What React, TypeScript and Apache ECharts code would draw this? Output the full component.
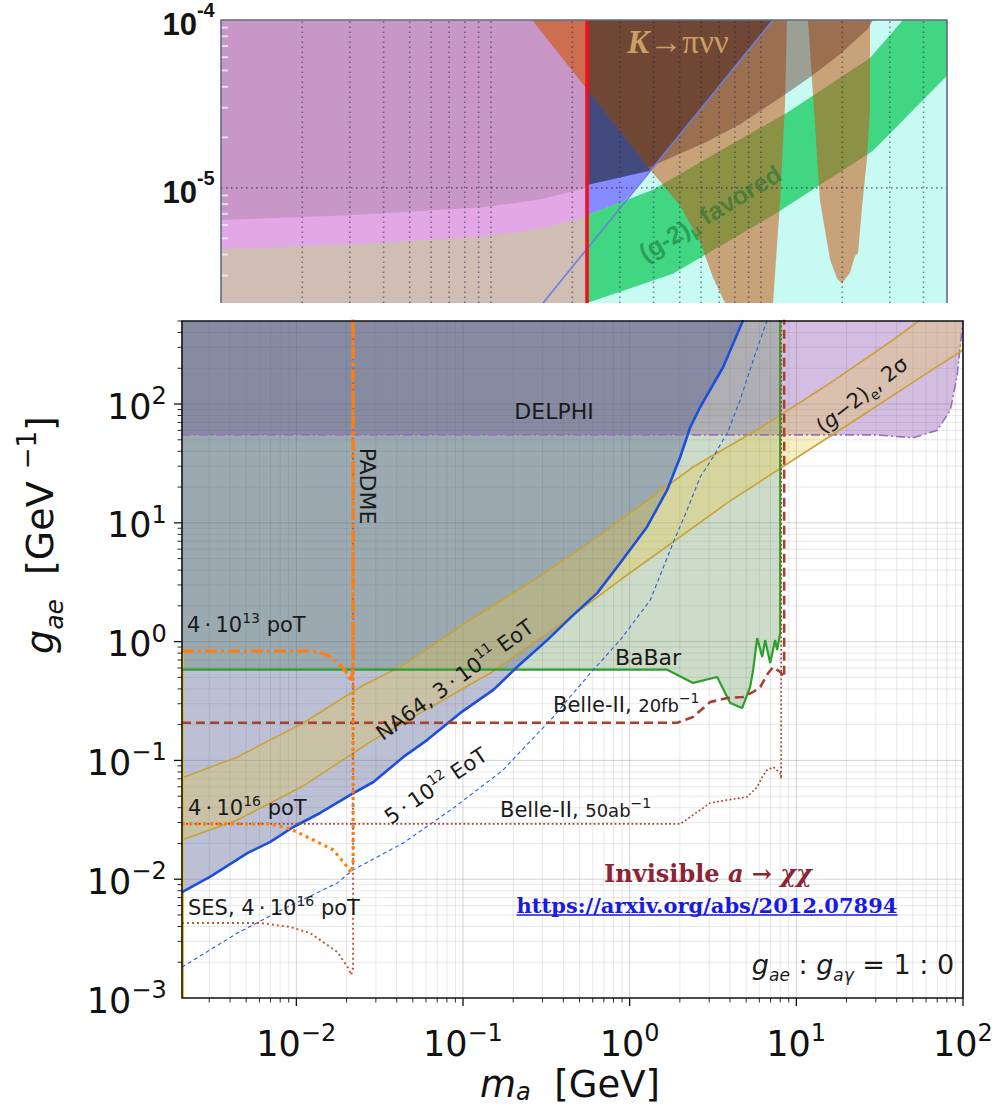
import React, { useEffect, useRef } from 'react';
import * as echarts from 'echarts';

const SANS = 'DejaVu Sans';
const SERIF = 'DejaVu Serif';
const ARIAL = 'Liberation Sans';
const TIMES = 'Liberation Serif';

// ================= Main panel: m_a [GeV] vs g_ae [GeV^-1] =================
const mainXRange = [0.00206, 100];
const mainYRange = [0.001, 500];
const mainXTickLabels = [0.01, 0.1, 1, 10, 100];
const mainYTickLabels = [0.001, 0.01, 0.1, 1, 10, 100];

const delphiBound = [[0.00206, 55], [30, 55], [50, 52], [70, 60], [84, 89], [92, 169], [98.6, 420], [100, 520]];
const babarBound = [[0.00206, 0.58], [1.68, 0.58], [2.4, 0.449], [3.35, 0.504], [4.01, 0.304], [4.73, 0.276], [5.28, 0.415], [5.51, 0.58], [5.82, 1.07], [6.24, 0.741], [6.5, 1.03], [6.97, 0.661], [7.46, 1.03], [7.67, 0.85], [8.0, 1.18], [8.0, 520]];
const na64Bound = [[0.00206, 0.0078], [0.00305, 0.0105], [0.00508, 0.0166], [0.00698, 0.0206], [0.00959, 0.0275], [0.0139, 0.0361], [0.0211, 0.0512], [0.029, 0.0658], [0.0439, 0.107], [0.0611, 0.149], [0.0964, 0.251], [0.152, 0.392], [0.211, 0.611], [0.32, 1.03], [0.458, 1.67], [0.638, 2.56], [0.877, 4.59], [1.27, 9.23], [1.68, 18.9], [2.01, 35.8], [2.31, 64], [2.65, 94.4], [3.64, 205], [4.8, 509]];
const na64Projection = [[0.00206, 0.00182], [0.00443, 0.00352], [0.00883, 0.00583], [0.0176, 0.00929], [0.0217, 0.0119], [0.0439, 0.0202], [0.0875, 0.0397], [0.174, 0.083], [0.22, 0.118], [0.348, 0.232], [0.422, 0.322], [0.604, 0.577], [0.877, 1.03], [1.33, 2.24], [1.82, 6.76], [2.21, 12.8], [2.65, 24.3], [3.17, 35.8], [3.85, 57], [4.6, 108], [5.51, 234], [6.68, 509]];
const g2eUpper = [[0.00206, 0.0711], [0.00443, 0.107], [0.011, 0.2065], [0.0242, 0.415], [0.0439, 0.635], [0.11, 1.52], [0.279, 3.43], [0.604, 7.16], [0.966, 11.6], [2.4, 29.5], [6.07, 62.8], [15.3, 144.5], [38, 346], [55.2, 509]];
const g2eLower = [[0.00206, 0.0214], [0.00443, 0.0315], [0.011, 0.061], [0.029, 0.149], [0.146, 0.544], [0.458, 1.67], [0.877, 3.3], [3.85, 14.7], [9.57, 33.8], [24.1, 77.8], [60.8, 182], [100, 285]];
const padme13 = [[0.00206, 0.834], [0.01265, 0.834], [0.01535, 0.771], [0.0176, 0.673], [0.0191, 0.6], [0.0205, 0.524], [0.0213, 0.457], [0.0219, 0.6], [0.0219, 520]];
const padme16 = [[0.00206, 0.0292], [0.007, 0.0292], [0.0092, 0.0265], [0.01265, 0.0214], [0.01667, 0.0176], [0.0202, 0.0127], [0.0213, 0.0113], [0.0219, 0.013], [0.0219, 520]];
const padmeSES = [[0.00206, 0.00428], [0.0061, 0.00428], [0.0092, 0.00396], [0.0121, 0.00352], [0.0176, 0.00244], [0.0205, 0.00179], [0.0213, 0.00156], [0.0219, 0.0018], [0.0219, 520]];
const belle20fb = [[0.00206, 0.2075], [1.93, 0.2075], [2.4, 0.232], [3.04, 0.31], [3.85, 0.335], [4.8, 0.342], [5.51, 0.377], [6.07, 0.415], [6.78, 0.544], [7.26, 0.611], [8.0, 0.555], [8.45, 0.5], [8.45, 520]];
const belle50ab = [[0.00206, 0.0292], [2.01, 0.0292], [2.4, 0.0347], [3.04, 0.0438], [4.18, 0.0473], [5.07, 0.0492], [5.82, 0.0597], [6.24, 0.0725], [6.68, 0.083], [7.26, 0.088], [8.0, 0.0783], [8.11, 0.07], [8.11, 520]];
const leftEdgeLine = [[0.00209, 0.001], [0.00209, 0.85]];

// ================= Top panel (cropped inset) =================
const topXRange = [10, 4886];
const topYRange = [2.06e-6, 1e-4];
const topYTickLabels = [1e-5, 1e-4];

const topTan = [[10, 1e-4], [226.8, 1e-4], [226.8, 2.06e-6], [10, 2.06e-6]];
const topPink = [[10, 1e-4], [226.8, 1e-4], [226.8, 6.78e-6], [151.9, 5.7e-6], [93.4, 5.12e-6], [30, 4.6e-6], [10, 4.3e-6]];
const topMauve = [[10, 1e-4], [226.8, 1e-4], [226.8, 1e-5], [151.9, 8.51e-6], [93.4, 7.65e-6], [30, 6.87e-6], [10, 6.43e-6]];
const topKaonLeft = [[141.9, 1e-4], [226.8, 1e-4], [226.8, 3.87e-5]];
const topCyan = [[226.8, 1e-4], [4886, 1e-4], [4886, 2.06e-6], [226.8, 2.06e-6]];
const topBlue = [[226.8, 3.87e-5], [391, 1.27e-5], [311, 8.29e-6], [226.8, 6.87e-6]];
const topGreenBand = [[226.8, 6.87e-6], [398, 9.73e-6], [705, 1.663e-5], [1248, 2.8e-5], [2534, 5.93e-5], [3357, 1e-4], [4886, 1e-4], [4886, 4.66e-5], [2599, 1.663e-5], [1108, 6.87e-6], [472, 3.08e-6], [226.8, 2.06e-6]];
const topValley1 = [[226.8, 1e-4], [1248, 1e-4], [1227, 3.12e-5], [1176, 8.18e-6], [1108, 2.06e-6], [735.6, 2.06e-6], [664, 2.92e-6], [594, 4.79e-6], [501, 7.86e-6], [391, 1.27e-5], [226.8, 3.87e-5]];
const topValley2 = [[1493, 1e-4], [2534, 1e-4], [2534, 2.92e-5], [2470, 1.494e-5], [2367, 7.65e-6], [2288, 4.08e-6], [2229, 3.92e-6], [2136, 3.12e-6], [1995, 2.69e-6], [1912, 2.88e-6], [1801, 3.76e-6], [1654, 8.4e-6]];
const topArc = [[226.8, 1e-4], [2599, 1e-4], [2491, 8.87e-5], [1962, 6.26e-5], [1545, 4.66e-5], [1248, 3.66e-5], [836, 2.39e-5], [631, 1.88e-5], [398, 1.36e-5], [226.8, 1.04e-5]];
const topNavy = [[226.8, 3.87e-5], [391, 1.27e-5], [226.8, 1.04e-5]];
const topKaonRight = [[226.8, 1e-4], [1108, 1e-4], [391, 1.27e-5], [226.8, 3.87e-5]];
const topRedLine = [[226.8, 2.06e-6], [226.8, 1e-4]];
const topBlueLine = [[155.8, 2.06e-6], [1108, 1e-4]];

const LINK = 'https://arxiv.org/abs/2012.07894';

// ---------------- helpers ----------------
function logGrid(min: number, max: number, majorOnly?: boolean, minorOnly?: boolean) {
  const out: number[] = [];
  for (let e = -8; e <= 5; e++) {
    for (let n = 1; n <= 9; n++) {
      if (majorOnly && n !== 1) continue;
      if (minorOnly && n === 1) continue;
      const v = +(n * Math.pow(10, e)).toPrecision(6);
      if (v >= min * 1.0001 && v <= max * 1.0001) out.push(v);
    }
  }
  return out;
}
function isDecade(v: number) {
  const l = Math.log10(v);
  return Math.abs(l - Math.round(l)) < 1e-6;
}
function inList(v: number, list: number[]) {
  return list.some((t) => Math.abs(Math.log10(t) - Math.log10(v)) < 1e-6);
}

function polygon(points: number[][], fill: string, axis: number, z: number) {
  return {
    type: 'custom', xAxisIndex: axis, yAxisIndex: axis, z, silent: true, clip: true,
    data: points,
    renderItem: (params: any, api: any) => {
      if (params.dataIndex !== 0) return null;
      return { type: 'polygon', shape: { points: points.map((p) => api.coord(p)) }, style: { fill } };
    },
  };
}
function curve(data: number[][], color: string, width: number, type: any, axis: number, z: number, cap = 'butt') {
  return {
    type: 'line', xAxisIndex: axis, yAxisIndex: axis, data, z, silent: true, symbol: 'none', showSymbol: false,
    clip: true, lineStyle: { color, width, type, cap }, emphasis: { disabled: true },
  };
}
function vLines(values: number[], y0: number, y1: number, axis: number, style: any, z: number) {
  return {
    type: 'custom', xAxisIndex: axis, yAxisIndex: axis, z, silent: true, clip: true,
    data: values.map((v) => [v, y0]),
    renderItem: (params: any, api: any) => {
      const a = api.coord([api.value(0), y0]);
      const b = api.coord([api.value(0), y1]);
      return { type: 'line', shape: { x1: a[0], y1: a[1], x2: b[0], y2: b[1] }, style };
    },
  };
}
function hLines(values: number[], x0: number, x1: number, axis: number, style: any, z: number) {
  return {
    type: 'custom', xAxisIndex: axis, yAxisIndex: axis, z, silent: true, clip: true,
    data: values.map((v) => [x0, v]),
    renderItem: (params: any, api: any) => {
      const a = api.coord([x0, api.value(1)]);
      const b = api.coord([x1, api.value(1)]);
      return { type: 'line', shape: { x1: a[0], y1: a[1], x2: b[0], y2: b[1] }, style };
    },
  };
}
function xTicks(values: number[], yAt: number, len: number, axis: number, style: any) {
  return {
    type: 'custom', xAxisIndex: axis, yAxisIndex: axis, z: 20, silent: true, clip: false,
    data: values.map((v) => [v, yAt]),
    renderItem: (params: any, api: any) => {
      const p = api.coord([api.value(0), yAt]);
      return { type: 'line', shape: { x1: p[0], y1: p[1], x2: p[0], y2: p[1] + len }, style };
    },
  };
}
function yTicks(values: number[], xAt: number, len: number, axis: number, style: any) {
  return {
    type: 'custom', xAxisIndex: axis, yAxisIndex: axis, z: 20, silent: true, clip: false,
    data: values.map((v) => [xAt, v]),
    renderItem: (params: any, api: any) => {
      const p = api.coord([xAt, api.value(1)]);
      return { type: 'line', shape: { x1: p[0], y1: p[1], x2: p[0] + len, y2: p[1] }, style };
    },
  };
}
function frame(xr: number[], yr: number[], axis: number, style: any, open: boolean) {
  return {
    type: 'custom', xAxisIndex: axis, yAxisIndex: axis, z: 21, silent: true, clip: false,
    data: [[xr[0], yr[0]]],
    renderItem: (params: any, api: any) => {
      const bl = api.coord([xr[0], yr[0]]);
      const tl = api.coord([xr[0], yr[1]]);
      const tr = api.coord([xr[1], yr[1]]);
      const br = api.coord([xr[1], yr[0]]);
      if (open) return { type: 'polyline', shape: { points: [bl, tl, tr, br] }, style: { ...style, fill: 'none' } };
      return { type: 'polygon', shape: { points: [bl, tl, tr, br] }, style: { ...style, fill: 'none' } };
    },
  };
}

const richL = (size: number, color = '#1a1a1a', family = SANS) => {
  const lh = Math.round(size * 1.4);
  const small = Math.round(size * 0.68);
  const sl = Math.round(size * 0.6);
  return {
    n: { fontFamily: family, fontSize: size, lineHeight: lh, fill: color },
    i: { fontFamily: family, fontStyle: 'italic', fontSize: size, lineHeight: lh, fill: color },
    m: { fontFamily: family, fontSize: Math.round(size * 0.85), lineHeight: lh, fill: color },
    u: { fontFamily: family, fontSize: small, lineHeight: sl, verticalAlign: 'top', fill: color },
    d: { fontFamily: family, fontSize: small, lineHeight: sl, verticalAlign: 'bottom', fill: color },
    di: { fontFamily: family, fontStyle: 'italic', fontSize: small, lineHeight: sl, verticalAlign: 'bottom', fill: color },
  };
};
function txt(x: number, y: number, text: string, rich: any, align = 'center', rotation = 0) {
  return {
    type: 'text', x, y, rotation, z: 100, silent: true,
    style: { text, rich, align, verticalAlign: 'middle', textAlign: align, textVerticalAlign: 'middle' },
  };
}
const deg = (d: number) => (d * Math.PI) / 180;

function buildOption(linkWidth: number) {
  const TOP = 0;
  const MAIN = 1;

  const mainLabelRich = {
    b: { fontFamily: SANS, fontSize: 35, lineHeight: 30, verticalAlign: 'bottom', color: '#111' },
    s: { fontFamily: SANS, fontSize: 24, lineHeight: 24, verticalAlign: 'top', color: '#111' },
    z: { fontSize: 1, lineHeight: 40 },
  };
  const mainFmt = (list: number[]) => (v: number) => {
    if (!isDecade(v) || !inList(v, list)) return '';
    const e = Math.round(Math.log10(v));
    const s = e < 0 ? '\u2212' + -e : '' + e;
    return `{b|10}{s|${s}}{z| }`;
  };
  const topFmt = (v: number) => {
    if (!isDecade(v) || !inList(v, topYTickLabels)) return '';
    const e = Math.round(Math.log10(v));
    return `{b|10}{s|${e}}{z| }`;
  };

  const mainGridMajor = { stroke: 'rgba(0,0,0,0.17)', lineWidth: 1 };
  const mainGridMinor = { stroke: 'rgba(0,0,0,0.10)', lineWidth: 0.9 };
  const tickStyle = { stroke: '#111', lineWidth: 1.3 };
  const minorTickStyle = { stroke: '#111', lineWidth: 0.9 };
  const topDots = { stroke: 'rgba(40,40,70,0.55)', lineWidth: 1.6, lineDash: [1.6, 3.4] };

  const series: any[] = [
    // ---------- top panel ----------
    polygon(topTan, '#d0beb4', TOP, 1),
    polygon(topPink, '#e2a8e6', TOP, 1),
    polygon(topMauve, '#c897c8', TOP, 1),
    polygon(topKaonLeft, '#cd6e50', TOP, 1),
    polygon(topCyan, '#c8faf4', TOP, 1),
    polygon(topBlue, '#868cff', TOP, 1),
    polygon(topGreenBand, '#41d782', TOP, 1),
    polygon(topValley1, 'rgba(200,90,20,0.55)', TOP, 2),
    polygon(topValley2, 'rgba(200,90,20,0.55)', TOP, 2),
    polygon(topArc, 'rgba(100,50,30,0.45)', TOP, 2),
    polygon(topNavy, '#434b7e', TOP, 2),
    polygon(topKaonRight, 'rgba(60,20,20,0.45)', TOP, 2),
    vLines(logGrid(topXRange[0] * 1.5, topXRange[1]), topYRange[0], topYRange[1], TOP, topDots, 3),
    hLines([1e-5], topXRange[0], topXRange[1], TOP, topDots, 3),
    curve(topBlueLine, '#6a7fe0', 1.6, 'solid', TOP, 4),
    curve(topRedLine, '#f01020', 3.6, 'solid', TOP, 4),
    yTicks(logGrid(topYRange[0], topYRange[1], false, true), topXRange[0], 7, TOP, { stroke: 'rgba(235,235,245,0.85)', lineWidth: 2 }),
    frame(topXRange, topYRange, TOP, { stroke: '#5f6c86', lineWidth: 1.6 }, true),

    // ---------- main panel ----------
    vLines(logGrid(mainXRange[0], mainXRange[1], false, true), mainYRange[0], mainYRange[1], MAIN, mainGridMinor, 1),
    vLines(logGrid(mainXRange[0], mainXRange[1], true), mainYRange[0], mainYRange[1], MAIN, mainGridMajor, 1),
    hLines(logGrid(mainYRange[0], mainYRange[1], false, true), mainXRange[0], mainXRange[1], MAIN, mainGridMinor, 1),
    hLines(logGrid(mainYRange[0], mainYRange[1], true), mainXRange[0], mainXRange[1], MAIN, mainGridMajor, 1),

    polygon([...delphiBound, [mainXRange[0], 520]], 'rgba(128,70,170,0.35)', MAIN, 2),
    polygon([...babarBound, [mainXRange[0], 520]], 'rgba(88,138,72,0.30)', MAIN, 2),
    polygon([...na64Bound, [mainXRange[0], 520]], 'rgba(64,75,132,0.35)', MAIN, 2),
    polygon([...g2eUpper, [100, 520], ...g2eLower.slice().reverse()], 'rgba(232,200,60,0.30)', MAIN, 2),

    curve(delphiBound, '#9b6fc0', 1.6, [9, 3, 2, 3], MAIN, 3),
    curve(g2eUpper, '#c9a23a', 1.6, 'solid', MAIN, 3),
    curve(g2eLower, '#c9a23a', 1.6, 'solid', MAIN, 3),
    curve(leftEdgeLine, '#e6c020', 2, 'solid', MAIN, 3),
    curve(babarBound, '#2ca02c', 2.2, 'solid', MAIN, 4),
    curve(na64Projection, '#2a5ee0', 1.1, [4, 3], MAIN, 4),
    curve(na64Bound, '#1f4fd8', 2.6, 'solid', MAIN, 4),
    curve(belle50ab, '#a8402e', 1.6, [1.8, 2.4], MAIN, 4),
    curve(belle20fb, '#a8402e', 2.6, [9, 5], MAIN, 4),
    curve(padmeSES, '#c0583a', 2, [2, 3], MAIN, 5),
    curve(padme16, '#ff7f0e', 3.2, [3, 4], MAIN, 5),
    curve(padme13, '#ff7f0e', 3.2, [12, 4, 3, 4], MAIN, 5),

    xTicks(logGrid(mainXRange[0], mainXRange[1], true), mainYRange[0], 8, MAIN, tickStyle),
    xTicks(logGrid(mainXRange[0], mainXRange[1], false, true), mainYRange[0], 4.5, MAIN, minorTickStyle),
    yTicks(logGrid(mainYRange[0], mainYRange[1], true), mainXRange[0], -8, MAIN, tickStyle),
    yTicks(logGrid(mainYRange[0], mainYRange[1], false, true), mainXRange[0], -4.5, MAIN, minorTickStyle),
    frame(mainXRange, mainYRange, MAIN, { stroke: '#111', lineWidth: 1.6 }, false),
  ];

  const r21 = richL(21);
  const r22 = richL(22);
  const graphic: any[] = [
    txt(554, 411, '{n|DELPHI}', r22),
    txt(367, 486, '{n|PADME}', r22, 'center', -Math.PI / 2),
    txt(862, 395, '{n|(}{i|g}{n|\u22122)}{d|e}{n|, 2\u03c3}', r21, 'center', deg(38)),
    txt(187, 625, '{n|4\u2009\u00b7\u200910}{u|13}{n| poT}', r21, 'left'),
    txt(455, 680, '{n|NA64, 3\u2009\u00b7\u200910}{u|11}{n| EoT}', r21, 'center', deg(36)),
    txt(648, 657, '{n|BaBar}', r22),
    txt(553, 705, '{n|Belle-II, }{m|20fb}{u|\u22121}', r21, 'left'),
    txt(436, 786, '{n|5\u2009\u00b7\u200910}{u|12}{n| EoT}', r21, 'center', deg(34)),
    txt(500, 810, '{n|Belle-II, }{m|50ab}{u|\u22121}', r21, 'left'),
    txt(188, 808, '{n|4\u2009\u00b7\u200910}{u|16}{n| poT}', r21, 'left'),
    txt(188, 908, '{n|SES, 4\u2009\u00b7\u200910}{u|16}{n| poT}', r21, 'left'),
    txt(708, 873, '{b|Invisible }{bi|a}{b| \u2192 }{bi|\u03c7\u03c7}', {
      b: { fontFamily: SERIF, fontWeight: 'bold', fontSize: 24, lineHeight: 30, fill: '#8c2434' },
      bi: { fontFamily: SERIF, fontWeight: 'bold', fontStyle: 'italic', fontSize: 24, lineHeight: 30, fill: '#8c2434' },
    }),
    txt(707, 905, `{l|${LINK}}`, {
      l: { fontFamily: SERIF, fontWeight: 'bold', fontSize: 21, lineHeight: 26, fill: '#1a1ae6' },
    }),
    {
      type: 'line', z: 100, silent: true,
      shape: { x1: 707 - linkWidth / 2, y1: 915, x2: 707 + linkWidth / 2, y2: 915 },
      style: { stroke: '#1a1ae6', lineWidth: 1.6 },
    },
    txt(853, 964, '{i|g}{d|ae}{n| : }{i|g}{d|a\u03b3}{n| = 1 : 0}', {
      ...richL(27),
      d: { fontFamily: SANS, fontStyle: 'italic', fontSize: 17, lineHeight: 16, verticalAlign: 'bottom', fill: '#1a1a1a' },
    }),
    // axis titles
    txt(40, 535, '{i|g}{d|ae}{n|  [GeV }{u|\u22121}{n|]}', {
      ...richL(38, '#111'),
      d: { fontFamily: SANS, fontStyle: 'italic', fontSize: 25, lineHeight: 26, verticalAlign: 'bottom', fill: '#111' },
    }, 'center', Math.PI / 2),
    txt(570, 1084, '{i|m}{d|a}{n|  [GeV]}', {
      i: { fontFamily: SANS, fontStyle: 'italic', fontSize: 37, lineHeight: 40, fill: '#111' },
      n: { fontFamily: SANS, fontSize: 37, lineHeight: 40, fill: '#111' },
      d: { fontFamily: SANS, fontStyle: 'italic', fontSize: 24, lineHeight: 22, verticalAlign: 'bottom', fill: '#111' },
    }),
    // top panel texts
    txt(678, 42, '{k|K}{r|\u2192\u03c0\u03bd\u03bd}', {
      k: { fontFamily: TIMES, fontWeight: 'bold', fontStyle: 'italic', fontSize: 33, lineHeight: 38, fill: '#c9a064' },
      r: { fontFamily: TIMES, fontSize: 33, lineHeight: 38, fill: '#c9a064' },
    }),
    txt(710, 213, '{n|(g-2)}{d|\u03bc}{n| favored}', {
      n: { fontFamily: ARIAL, fontWeight: 'bold', fontSize: 25, lineHeight: 32, fill: 'rgba(25,110,50,0.55)' },
      d: { fontFamily: ARIAL, fontWeight: 'bold', fontSize: 16, lineHeight: 14, verticalAlign: 'bottom', fill: 'rgba(25,110,50,0.55)' },
    }, 'center', deg(31)),
  ];

  return {
    animation: false,
    backgroundColor: '#ffffff',
    grid: [
      { left: 221, top: 13, width: 726, height: 290, show: false },
      { left: 182, top: 321, width: 781, height: 677, show: false },
    ],
    xAxis: [
      { gridIndex: 0, type: 'log', logBase: 10, min: topXRange[0], max: topXRange[1], show: false },
      {
        gridIndex: 1, type: 'log', logBase: 10, min: mainXRange[0], max: mainXRange[1],
        axisLine: { show: false }, axisTick: { show: false }, splitLine: { show: false },
        axisLabel: { margin: 23, formatter: mainFmt(mainXTickLabels), rich: mainLabelRich },
      },
    ],
    yAxis: [
      {
        gridIndex: 0, type: 'log', logBase: 10, min: topYRange[0], max: topYRange[1],
        axisLine: { show: false }, axisTick: { show: false }, splitLine: { show: false },
        axisLabel: {
          margin: 6, formatter: topFmt,
          rich: {
            b: { fontFamily: ARIAL, fontWeight: 'bold', fontSize: 31, lineHeight: 20, verticalAlign: 'bottom', color: '#151515' },
            s: { fontFamily: ARIAL, fontWeight: 'bold', fontSize: 20, lineHeight: 36, verticalAlign: 'top', color: '#151515' },
            z: { fontSize: 1, lineHeight: 40 },
          },
        },
      },
      {
        gridIndex: 1, type: 'log', logBase: 10, min: mainYRange[0], max: mainYRange[1],
        axisLine: { show: false }, axisTick: { show: false }, splitLine: { show: false },
        axisLabel: { margin: 15, formatter: mainFmt(mainYTickLabels), rich: mainLabelRich },
      },
    ],
    series,
    graphic,
  };
}

export default function App() {
  const ref = useRef<HTMLDivElement>(null);
  useEffect(() => {
    if (!ref.current) return;
    let linkWidth = 385;
    try {
      const ctx = document.createElement('canvas').getContext('2d');
      if (ctx) {
        ctx.font = `bold 21px "${SERIF}"`;
        linkWidth = ctx.measureText(LINK).width;
      }
    } catch (e) {
      /* keep default */
    }
    const chart = echarts.init(ref.current, undefined, { renderer: 'svg' });
    chart.setOption(buildOption(linkWidth) as any);
    return () => chart.dispose();
  }, []);
  return (
    <div
      ref={ref}
      style={{ position: 'absolute', left: 0, top: 0, width: 1000, height: 1111, background: '#ffffff' }}
    />
  );
}
